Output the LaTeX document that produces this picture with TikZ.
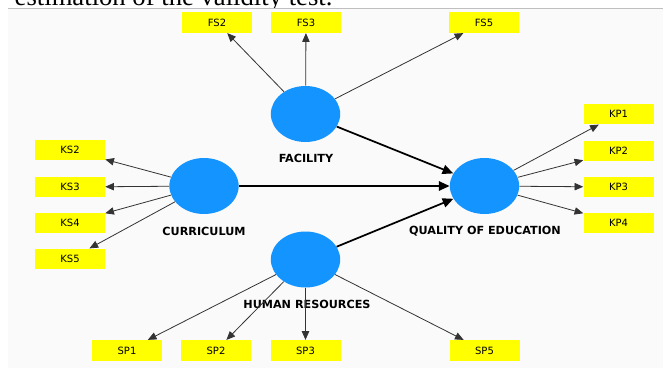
\documentclass[tikz,border=0pt]{standalone}
\usepackage{fontspec}
\setmainfont{Liberation Serif}
\setsansfont{DejaVu Sans}
\usetikzlibrary{positioning, shapes.geometric, arrows.meta}
\definecolor{latent}{RGB}{20,148,255}
\definecolor{indic}{RGB}{255,255,0}
\definecolor{canvas}{RGB}{250,250,250}
\colorlet{rule}{black!25}
\tikzset{
  indicator/.style={fill=indic, minimum width=52.5pt, minimum height=15.5pt,
                    inner sep=0pt, font=\sffamily\fontsize{7.5}{9}\selectfont},
  construct/.style={ellipse, fill=latent, minimum width=52pt,
                    minimum height=42pt, inner sep=0pt},
  cname/.style    ={font=\sffamily\bfseries\fontsize{8.4}{10}\selectfont},
  loading/.style  ={-{Triangle[length=6.5pt, width=5.5pt]}, black!80,
                    line width=0.6pt},
  effect/.style   ={-{Triangle[length=8pt, width=7pt]}, black,
                    line width=1.3pt},
}

\begin{document}
\begin{tikzpicture}[x=0.75pt, y=-0.75pt]
\useasboundingbox (0,0) rectangle (663,368);
\clip (0,0) rectangle (663,368);

% Page strip with the tail of the caption line above the model panel
\node[anchor=base west, font=\fontsize{20}{24}\selectfont] (caption)
  at (10,5) {estimation of the validity test.};
\fill[canvas] (8,9) rectangle (663,368);
\draw[rule, line width=0.75pt] (8,8.5) -- (663,8.5);

% Latent constructs
\node[construct] (FAC) at (305.5,114) {};
\node[cname] (FAClab) at (306,158) {FACILITY};
\node[construct] (CUR) at (204,186) {};
\node[cname] (CURlab) at (204,231) {CURRICULUM};
\node[construct] (QOE) at (484.5,186) {};
\node[cname] (QOElab) at (485,231) {QUALITY OF EDUCATION};
\node[construct] (HR) at (305.5,259.5) {};
\node[cname] (HRlab) at (307,304) {HUMAN RESOURCES};

% Indicators and their loadings
\foreach \n/\x in {2/217, 3/306, 5/484} {
  \node[indicator] (FS\n) at (\x,22.5) {FS\n};
  \draw[loading] (FAC) -- (FS\n);
}
\foreach \n/\y in {2/150, 3/187, 4/223, 5/259} {
  \node[indicator] (KS\n) at (70,\y) {KS\n};
  \draw[loading] (CUR) -- (KS\n);
}
\foreach \n/\y in {1/114, 2/151, 3/187, 4/223} {
  \node[indicator] (KP\n) at (618.5,\y) {KP\n};
  \draw[loading] (QOE) -- (KP\n);
}
\foreach \n/\x in {1/127, 2/216, 3/305.5, 5/484.5} {
  \node[indicator] (SP\n) at (\x,350.5) {SP\n};
  \draw[loading] (HR) -- (SP\n);
}

% Structural paths
\draw[effect] (FAC) -- (QOE);
\draw[effect] (CUR) -- (QOE);
\draw[effect] (HR)  -- (QOE);

\end{tikzpicture}
\end{document}
